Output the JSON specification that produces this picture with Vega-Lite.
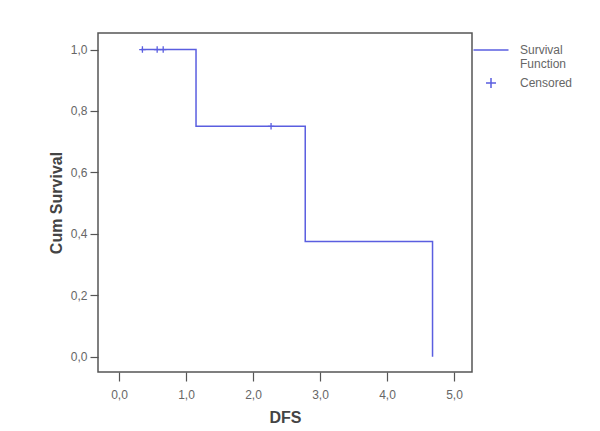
{
  "$schema": "https://vega.github.io/schema/vega-lite/v6.json",
  "autosize": {"type": "none"},
  "padding": {"left": 98, "top": 33, "right": 128, "bottom": 59},
  "width": 374,
  "height": 339,
  "background": "white",
  "datasets": {
    "curve": [
      {"t": 0.33, "s": 1.0, "series": "Survival Function"},
      {"t": 1.15, "s": 0.75, "series": "Survival Function"},
      {"t": 2.78, "s": 0.375, "series": "Survival Function"},
      {"t": 4.68, "s": 0.0, "series": "Survival Function"}
    ],
    "censor": [
      {"t": 0.35, "s": 1.0, "series": "Censored"},
      {"t": 0.57, "s": 1.0, "series": "Censored"},
      {"t": 0.66, "s": 1.0, "series": "Censored"},
      {"t": 2.27, "s": 0.75, "series": "Censored"}
    ]
  },
  "layer": [
    {
      "data": {"name": "curve"},
      "mark": {"type": "line", "interpolate": "step-after", "strokeWidth": 1.5},
      "encoding": {
        "x": {"field": "t", "type": "quantitative"},
        "y": {"field": "s", "type": "quantitative"},
        "color": {"field": "series", "type": "nominal"}
      }
    },
    {
      "data": {"name": "censor"},
      "mark": {"type": "point", "filled": false, "size": 42, "strokeWidth": 1.3, "opacity": 1},
      "encoding": {
        "x": {"field": "t", "type": "quantitative"},
        "y": {"field": "s", "type": "quantitative"},
        "color": {"field": "series", "type": "nominal"},
        "shape": {"field": "series", "type": "nominal"}
      }
    }
  ],
  "resolve": {"scale": {"color": "shared", "shape": "shared"}},
  "encoding": {
    "x": {
      "field": "t", "type": "quantitative",
      "scale": {"domain": [-0.313, 5.269], "nice": false, "zero": false},
      "axis": {
        "title": "DFS",
        "values": [0, 1, 2, 3, 4, 5],
        "labelExpr": "replace(format(datum.value, '.1f'), '.', ',')",
        "tickSize": 9,
        "labelPadding": 8,
        "titlePadding": 9
      }
    },
    "y": {
      "field": "s", "type": "quantitative",
      "scale": {"domain": [-0.05, 1.054], "nice": false, "zero": false},
      "axis": {
        "title": "Cum Survival",
        "values": [0, 0.2, 0.4, 0.6, 0.8, 1.0],
        "labelExpr": "replace(format(datum.value, '.1f'), '.', ',')",
        "tickSize": 8,
        "labelPadding": 3,
        "titlePadding": 6
      }
    },
    "color": {
      "field": "series", "type": "nominal",
      "scale": {"domain": ["Survival Function", "Censored"], "range": ["#5a5ee0", "#5a5ee0"]},
      "legend": {
        "title": null,
        "orient": "none",
        "legendX": 387,
        "legendY": 11,
        "padding": 0,
        "symbolSize": 100,
        "symbolStrokeWidth": 1.5,
        "labelOffset": 23,
        "rowPadding": 5,
        "labelExpr": "datum.label == 'Survival Function' ? ['Survival', 'Function'] : datum.label"
      }
    },
    "shape": {
      "field": "series", "type": "nominal",
      "scale": {"domain": ["Survival Function", "Censored"], "range": ["M-3.5,0H3.5", "M-1,0H1M0,-1V1"]},
      "legend": {
        "title": null,
        "orient": "none",
        "legendX": 387,
        "legendY": 11,
        "padding": 0,
        "symbolSize": 100,
        "symbolStrokeWidth": 1.5,
        "labelOffset": 23,
        "rowPadding": 5,
        "labelExpr": "datum.label == 'Survival Function' ? ['Survival', 'Function'] : datum.label"
      }
    }
  },
  "config": {
    "font": "Liberation Sans",
    "view": {"stroke": "#555555", "strokeWidth": 1.5},
    "axis": {
      "grid": false,
      "domain": false,
      "tickColor": "#555555",
      "tickWidth": 1.2,
      "labelFont": "Liberation Sans",
      "labelFontSize": 12,
      "labelColor": "#666666",
      "titleFont": "Liberation Sans",
      "titleFontSize": 16,
      "titleFontWeight": "bold",
      "titleColor": "#444444"
    },
    "legend": {
      "labelFont": "Liberation Sans",
      "labelFontSize": 12,
      "labelColor": "#666666",
      "labelLimit": 200
    }
  }
}
